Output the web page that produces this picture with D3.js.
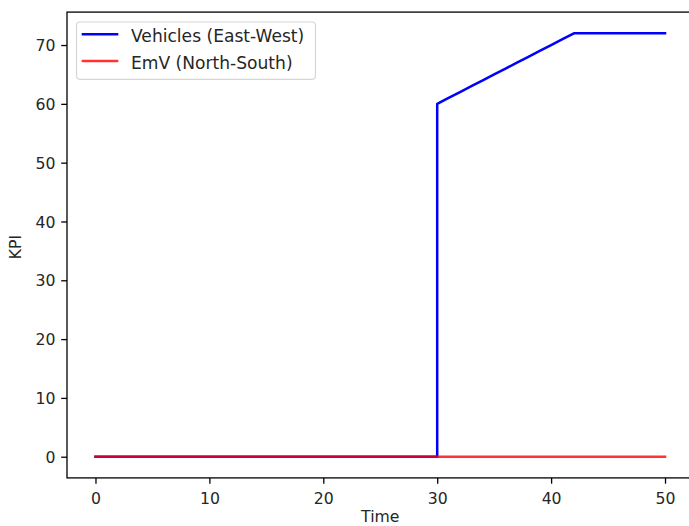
<!DOCTYPE html>
<html><head><meta charset="utf-8">
<script src="https://cdn.jsdelivr.net/npm/d3@7"></script>
<style>body{margin:0;background:#fff}svg{display:block}text{font-family:"DejaVu Sans",sans-serif;fill:#262626}</style>
</head><body>
<div id="chart"></div>
<script>
const time = d3.range(0, 51);
// KPI values per time step
const vehicles = [0,0,0,0,0,0,0,0,0,0,0,0,0,0,0,0,0,0,0,0,0,0,0,0,0,0,0,0,0,0,
  60,61,62,63,64,65,66,67,68,69,70,71,72,72,72,72,72,72,72,72,72];
const emv = [0,0,0,0,0,0,0,0,0,0,0,0,0,0,0,0,0,0,0,0,0,0,0,0,0,0,0,0,0,0,
  0,0,0,0,0,0,0,0,0,0,0,0,0,0,0,0,0,0,0,0,0];
const xTicks = [0,10,20,30,40,50];
const yTicks = [0,10,20,30,40,50,60,70];
const seriesNames = ["Vehicles (East-West)","EmV (North-South)"];
const seriesColors = ["#0000ff","#ff0000"];

// vertical jump at t=30 (value before jump = 0)
const vehiclesPts = [];
time.forEach((t,i)=>{ if(i>0 && vehicles[i]-vehicles[i-1]>5) vehiclesPts.push([t,vehicles[i-1]]); vehiclesPts.push([t,vehicles[i]]); });

const W=689,H=526;
const L=67,R=693.5,T=12.1,B=477.9;
const svg=d3.select("#chart").append("svg").attr("width",W).attr("height",H);
const x=d3.scaleLinear().domain([-2.5,52.5]).range([L,R]);
const y=d3.scaleLinear().domain([-3.6,75.6]).range([B,T]);
const fs=15.7, lfs=17.1, tk=5.8;

const line=d3.line().x(d=>x(d[0])).y(d=>y(d[1]));
svg.append("path").datum(vehiclesPts).attr("d",line).attr("fill","none")
  .attr("stroke",seriesColors[0]).attr("stroke-width",2.5).attr("stroke-linejoin","round").attr("stroke-linecap","square");
svg.append("path").datum(time.map((t,i)=>[t,emv[i]])).attr("d",line).attr("fill","none")
  .attr("stroke",seriesColors[1]).attr("stroke-opacity",0.8).attr("stroke-width",2.5).attr("stroke-linecap","square");

// axes
const xAxis=d3.axisBottom(x).tickValues(xTicks).tickSize(tk).tickPadding(tk).tickFormat(d3.format("d"));
const gx=svg.append("g").attr("transform",`translate(0,${B})`).call(xAxis);
const yAxis=d3.axisLeft(y).tickValues(yTicks).tickSize(tk).tickPadding(tk).tickFormat(d3.format("d"));
const gy=svg.append("g").attr("transform",`translate(${L},0)`).call(yAxis);
[gx,gy].forEach(g=>{g.select(".domain").remove();g.selectAll("line").attr("stroke","#000").attr("stroke-width",1.3);
  g.selectAll("text").attr("font-size",fs).attr("font-family","DejaVu Sans").attr("fill","#262626");});
gx.selectAll("text").attr("dy",null).attr("y",26.4);
gy.selectAll("text").attr("dy","0.36em");

// frame
svg.append("rect").attr("x",L).attr("y",T).attr("width",R-L).attr("height",B-T)
  .attr("fill","none").attr("stroke","#000").attr("stroke-width",1.3);

svg.append("text").attr("x",(L+R)/2).attr("y",521.5).attr("text-anchor","middle").attr("font-size",fs).text("Time");
svg.append("text").attr("transform",`translate(${20.7},${247}) rotate(-90)`).attr("text-anchor","middle").attr("font-size",fs).text("KPI");

// legend
const lg=svg.append("g");
lg.append("rect").attr("x",76.5).attr("y",22).attr("width",239).attr("height",57.3).attr("rx",3.5)
  .attr("fill","#fff").attr("fill-opacity",0.8).attr("stroke","#d6d6d6").attr("stroke-width",1.2);
seriesNames.forEach((n,i)=>{
  const yy=34.3+i*26.8;
  lg.append("line").attr("x1",81.7).attr("x2",118.3).attr("y1",yy).attr("y2",yy)
    .attr("stroke",seriesColors[i]).attr("stroke-opacity",i?0.8:1).attr("stroke-width",2.5);
  lg.append("text").attr("x",131).attr("y",yy+7.8).attr("font-size",lfs).text(n);
});
</script>
</body></html>
